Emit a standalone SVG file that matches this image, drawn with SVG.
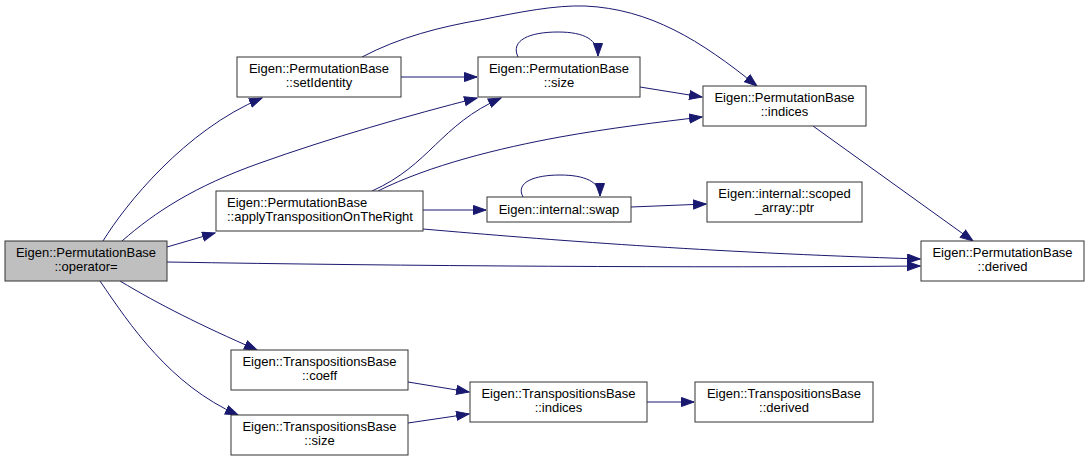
<svg xmlns="http://www.w3.org/2000/svg" width="1089" height="461" viewBox="0 0 1089 461">
<style>
.n rect{fill:#ffffff;stroke:#333333;stroke-width:1}
.n.root rect{fill:#bfbfbf}
.n text{font-family:"Liberation Sans",Arial,sans-serif;font-size:13px;fill:#000000;text-anchor:middle}
.e path{fill:none;stroke:#191970;stroke-width:1}
</style>
<defs>
<marker id="ah" markerUnits="userSpaceOnUse" markerWidth="14" markerHeight="11" refX="13" refY="5" orient="auto">
<path d="M0.5,0.5 L13,5 L0.5,9.5 z" fill="#191970" stroke="#191970" stroke-width="1"/>
</marker>
</defs>
<rect width="1089" height="461" fill="#ffffff"/>
<g id="edges" class="e">
<path marker-end="url(#ah)" d="M103,241 C125,205 185,130 262,98"/>
<path marker-end="url(#ah)" d="M122,241 C155,212 195,186 260,163 C330,138 410,115 477,98"/>
<path marker-end="url(#ah)" d="M167,247 L215,233"/>
<path marker-end="url(#ah)" d="M167,262 C400,266 700,268 920,266"/>
<path marker-end="url(#ah)" d="M120,281 C160,305 200,325 257,350"/>
<path marker-end="url(#ah)" d="M100,281 C130,325 170,385 238,415"/>
<path marker-end="url(#ah)" d="M401,77 L477,77"/>
<path marker-end="url(#ah)" d="M362,57 C400,37 440,27 480,20 C520,12 555,5 585,6 C650,9 700,40 757,86"/>
<path marker-end="url(#ah)" d="M518,57 C510,40 530,32 558,32 C585,32 598,40 598,56"/>
<path marker-end="url(#ah)" d="M640,87 L702,97"/>
<path marker-end="url(#ah)" d="M372,191 C430,165 440,125 501,98"/>
<path marker-end="url(#ah)" d="M378,191 C430,165 500,148 560,137 C610,128 660,122 702,117"/>
<path marker-end="url(#ah)" d="M423,210 L486,210"/>
<path marker-end="url(#ah)" d="M423,229 C550,240 700,252 920,259"/>
<path marker-end="url(#ah)" d="M523,197 C515,182 535,175 560,175 C585,175 600,182 600,196"/>
<path marker-end="url(#ah)" d="M631,207 L706,204"/>
<path marker-end="url(#ah)" d="M813,126 L973,241"/>
<path marker-end="url(#ah)" d="M408,382 L469,392"/>
<path marker-end="url(#ah)" d="M408,423 L469,414"/>
<path marker-end="url(#ah)" d="M647,402 L694,402"/>
</g>
<g id="n_operator" class="n root"><rect x="5" y="241" width="162" height="40"/><text x="86" y="257">Eigen::PermutationBase</text><text x="86" y="271">::operator=</text></g>
<g id="n_setIdentity" class="n"><rect x="237" y="57" width="164" height="40"/><text x="319" y="73">Eigen::PermutationBase</text><text x="319" y="87">::setIdentity</text></g>
<g id="n_psize" class="n"><rect x="478" y="57" width="162" height="40"/><text x="559" y="73">Eigen::PermutationBase</text><text x="559" y="87">::size</text></g>
<g id="n_pindices" class="n"><rect x="703" y="86" width="163" height="40"/><text x="784.5" y="102">Eigen::PermutationBase</text><text x="784.5" y="116">::indices</text></g>
<g id="n_apply" class="n"><rect x="216" y="191" width="207" height="40"/><text x="227" y="207" style="text-anchor:start">Eigen::PermutationBase</text><text x="227" y="221" style="text-anchor:start">::applyTranspositionOnTheRight</text></g>
<g id="n_swap" class="n"><rect x="487" y="197" width="144" height="25"/><text x="559" y="214">Eigen::internal::swap</text></g>
<g id="n_ptr" class="n"><rect x="707" y="182" width="155" height="40"/><text x="784.5" y="198">Eigen::internal::scoped</text><text x="784.5" y="212">_array::ptr</text></g>
<g id="n_pderived" class="n"><rect x="921" y="241" width="163" height="40"/><text x="1002.5" y="257">Eigen::PermutationBase</text><text x="1002.5" y="271">::derived</text></g>
<g id="n_tcoeff" class="n"><rect x="231" y="350" width="177" height="40"/><text x="319.5" y="366">Eigen::TranspositionsBase</text><text x="319.5" y="380">::coeff</text></g>
<g id="n_tsize" class="n"><rect x="231" y="415" width="177" height="40"/><text x="319.5" y="431">Eigen::TranspositionsBase</text><text x="319.5" y="445">::size</text></g>
<g id="n_tindices" class="n"><rect x="470" y="382" width="177" height="40"/><text x="558.5" y="398">Eigen::TranspositionsBase</text><text x="558.5" y="412">::indices</text></g>
<g id="n_tderived" class="n"><rect x="695" y="382" width="178" height="40"/><text x="784" y="398">Eigen::TranspositionsBase</text><text x="784" y="412">::derived</text></g>
</svg>
